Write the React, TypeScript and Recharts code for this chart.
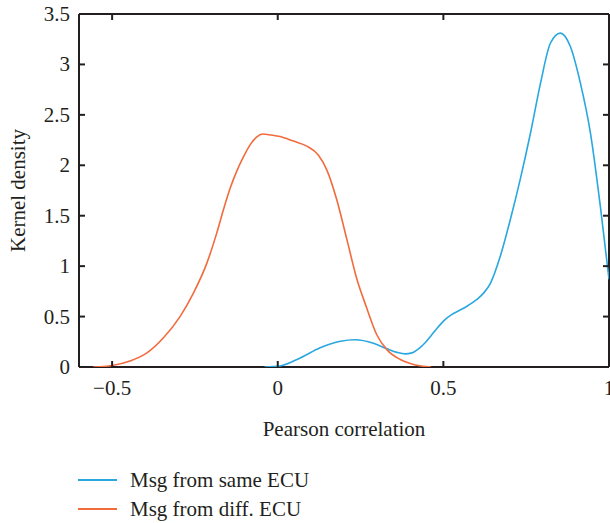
import React from 'react';
import { LineChart, Line, XAxis, YAxis, Legend, Label } from 'recharts';

// Msg from same ECU (blue)
const sameX = [-0.04, 0.007, 0.068, 0.128, 0.189, 0.234, 0.289, 0.33, 0.36, 0.385, 0.405, 0.425, 0.445, 0.465, 0.485, 0.505, 0.525, 0.545, 0.57, 0.601, 0.622, 0.642, 0.672, 0.702, 0.732, 0.763, 0.793, 0.823, 0.853, 0.883, 0.914, 0.944, 0.974, 1.0];
const sameY = [0, 0.01, 0.09, 0.19, 0.255, 0.27, 0.235, 0.18, 0.145, 0.13, 0.14, 0.18, 0.24, 0.32, 0.4, 0.47, 0.52, 0.555, 0.6, 0.67, 0.735, 0.83, 1.1, 1.46, 1.86, 2.32, 2.81, 3.21, 3.31, 3.18, 2.81, 2.32, 1.59, 0.87];

// Msg from diff. ECU (orange)
const diffX = [-0.557, -0.5, -0.446, -0.395, -0.345, -0.295, -0.255, -0.214, -0.184, -0.164, -0.144, -0.124, -0.104, -0.084, -0.064, -0.045, -0.02, 0.007, 0.047, 0.088, 0.123, 0.148, 0.178, 0.209, 0.239, 0.267, 0.299, 0.33, 0.37, 0.41, 0.463];
const diffY = [0, 0.015, 0.06, 0.14, 0.29, 0.5, 0.73, 1.03, 1.33, 1.56, 1.77, 1.94, 2.08, 2.2, 2.28, 2.31, 2.3, 2.285, 2.24, 2.19, 2.1, 1.955, 1.66, 1.26, 0.87, 0.6, 0.32, 0.17, 0.074, 0.025, 0];

const xTicks = [-0.5, 0, 0.5, 1];
const xTickLabels = ['\u22120.5', '0', '0.5', '1'];
const yTicks = [0, 0.5, 1, 1.5, 2, 2.5, 3, 3.5];
const yTickLabels = ['0', '0.5', '1', '1.5', '2', '2.5', '3', '3.5'];

const seriesNames = ['Msg from same ECU', 'Msg from diff. ECU'];
const seriesColors = ['#29a7df', '#f26b3d'];

const sameData = sameX.map((x, i) => ({ x, y: sameY[i] }));
const diffData = diffX.map((x, i) => ({ x, y: diffY[i] }));

const INK = '#231f20';
const FONT = '"Liberation Serif", "Times New Roman", serif';
const FS = 21;

const BottomTick = (props: any) => {
  const { x, y, payload } = props;
  const i = xTicks.indexOf(payload.value);
  return (
    <g>
      <line x1={x} x2={x} y1={y} y2={y - 6} stroke={INK} strokeWidth={2} />
      <text x={x} y={y + 28} textAnchor="middle" fontFamily={FONT} fontSize={FS} fill={INK}>
        {xTickLabels[i]}
      </text>
    </g>
  );
};

const TopTick = (props: any) => {
  const { x, y } = props;
  return <line x1={x} x2={x} y1={y} y2={y + 6} stroke={INK} strokeWidth={2} />;
};

const LeftTick = (props: any) => {
  const { x, y, payload } = props;
  const i = yTicks.indexOf(payload.value);
  return (
    <g>
      <line x1={x} x2={x + 6} y1={y} y2={y} stroke={INK} strokeWidth={2} />
      <text x={x - 9} y={y + 7} textAnchor="end" fontFamily={FONT} fontSize={FS} fill={INK}>
        {yTickLabels[i]}
      </text>
    </g>
  );
};

const RightTick = (props: any) => {
  const { x, y } = props;
  return <line x1={x} x2={x - 6} y1={y} y2={y} stroke={INK} strokeWidth={2} />;
};

const LegendContent = () => (
  <svg width={360} height={63} style={{ display: 'block' }}>
    {seriesNames.map((name, i) => {
      const ly = 20 + i * 29;
      return (
        <g key={name}>
          <line x1={78} x2={117} y1={ly} y2={ly} stroke={seriesColors[i]} strokeWidth={2} />
          <text x={130} y={ly + 7} fontFamily={FONT} fontSize={FS} fill={INK}>
            {name}
          </text>
        </g>
      );
    })}
  </svg>
);

const YLabel = () => (
  <text
    transform="translate(25,190.5) rotate(-90)"
    textAnchor="middle"
    fontFamily={FONT}
    fontSize={FS}
    fill={INK}
  >
    Kernel density
  </text>
);

export default function App() {
  const axisLine = { stroke: INK, strokeWidth: 2 };
  const lineZ: any = { zIndex: 700 };
  return (
    <div style={{ position: 'absolute', left: 0, top: 0, width: 610, height: 523, background: '#fff' }}>
      <LineChart width={610} height={523} margin={{ top: 13, right: 0, bottom: 0, left: 0 }}>
        <XAxis
          xAxisId="b"
          dataKey="x"
          type="number"
          domain={[-0.6, 1]}
          ticks={xTicks}
          interval={0}
          allowDataOverflow
          height={156}
          tickSize={0}
          tickMargin={0}
          tickLine={false}
          axisLine={axisLine}
          tick={BottomTick}
        >
          <Label
            value="Pearson correlation"
            position="insideTop"
            offset={54}
            style={{ fontFamily: FONT, fontSize: FS, fill: INK }}
          />
        </XAxis>
        <XAxis
          xAxisId="t"
          dataKey="x"
          orientation="top"
          type="number"
          domain={[-0.6, 1]}
          ticks={xTicks}
          interval={0}
          allowDataOverflow
          height={1}
          tickSize={0}
          tickMargin={0}
          tickLine={false}
          axisLine={axisLine}
          tick={TopTick}
        />
        <YAxis
          yAxisId="l"
          type="number"
          domain={[0, 3.5]}
          ticks={yTicks}
          interval={0}
          allowDataOverflow
          width={79}
          tickSize={0}
          tickMargin={0}
          tickLine={false}
          axisLine={axisLine}
          tick={LeftTick}
          label={<YLabel />}
        />
        <YAxis
          yAxisId="r"
          orientation="right"
          type="number"
          domain={[0, 3.5]}
          ticks={yTicks}
          interval={0}
          allowDataOverflow
          width={1}
          tickSize={0}
          tickMargin={0}
          tickLine={false}
          axisLine={axisLine}
          tick={RightTick}
        />
        {/* invisible series that binds the mirrored top/right frame axes */}
        <Line
          xAxisId="t"
          yAxisId="r"
          data={sameData}
          dataKey="y"
          type="monotone"
          stroke="none"
          strokeWidth={0}
          dot={false}
          activeDot={false}
          legendType="none"
          isAnimationActive={false}
        />
        <Line
          xAxisId="b"
          yAxisId="l"
          data={sameData}
          dataKey="y"
          name={seriesNames[0]}
          type="monotone"
          stroke={seriesColors[0]}
          strokeWidth={1.6}
          dot={false}
          isAnimationActive={false}
          {...lineZ}
        />
        <Line
          xAxisId="b"
          yAxisId="l"
          data={diffData}
          dataKey="y"
          name={seriesNames[1]}
          type="monotone"
          stroke={seriesColors[1]}
          strokeWidth={1.6}
          dot={false}
          isAnimationActive={false}
          {...lineZ}
        />
        <Legend
          layout="vertical"
          align="center"
          verticalAlign="middle"
          wrapperStyle={{ left: 0, top: 460, width: 360, height: 63 }}
          content={LegendContent}
        />
      </LineChart>
    </div>
  );
}
